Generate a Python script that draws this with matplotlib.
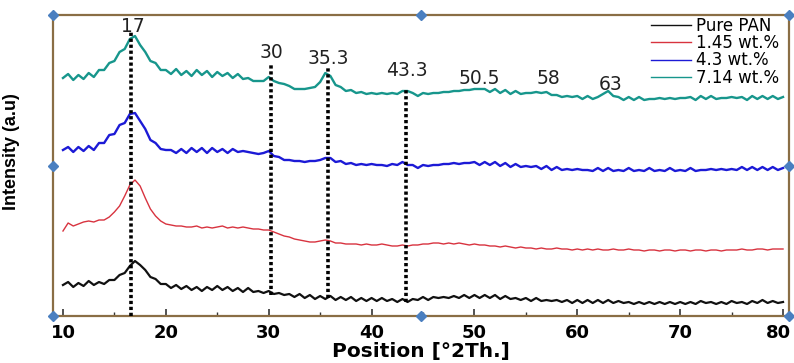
import numpy as np
import matplotlib
matplotlib.use("Agg")
import matplotlib.pyplot as plt
from matplotlib.ticker import MultipleLocator
from matplotlib.transforms import ScaledTranslation
from matplotlib import font_manager

# ---------------- data ----------------
two_theta = np.arange(10.0, 80.01, 0.5)   # 141 sampling positions

pure_pan = [
    31, 34, 29, 33, 30, 35, 31, 34, 32, 36,
    36, 41, 43, 50, 55, 51, 46, 39, 37, 32,
    32, 28, 31, 27, 30, 26, 29, 25, 29, 26,
    30, 26, 29, 25, 28, 24, 28, 24, 25, 23,
    25, 22, 23, 21, 22, 19, 22, 18, 21, 17,
    20, 17, 20, 16, 19, 16, 19, 15, 18, 15,
    18, 15, 18, 15, 17, 14, 17, 14, 17, 16,
    19, 16, 19, 18, 19, 18, 20, 18, 21, 18,
    21, 18, 21, 18, 21, 17, 20, 17, 18, 16,
    18, 15, 18, 15, 16, 15, 16, 14, 16, 13,
    16, 13, 16, 13, 16, 13, 16, 13, 15, 13,
    14, 12, 14, 12, 14, 12, 14, 12, 14, 12,
    14, 12, 14, 12, 15, 13, 14, 12, 14, 12,
    15, 13, 14, 12, 15, 13, 16, 13, 15, 13,
    14]

wt_1_45 = [
    85, 93, 90, 92, 94, 95, 94, 96, 96, 99,
    104, 110, 120, 131, 136, 130, 118, 107, 100, 95,
    92, 91, 90, 90, 89, 89, 90, 88, 89, 88,
    89, 90, 88, 89, 88, 89, 88, 87, 87, 86,
    86, 84, 82, 80, 79, 77, 76, 75, 74, 74,
    75, 76, 75, 73, 73, 72, 72, 72, 71, 72,
    71, 71, 72, 71, 70, 70, 71, 70, 71, 71,
    72, 72, 73, 73, 72, 73, 72, 73, 72, 71,
    72, 71, 71, 70, 70, 69, 70, 69, 68, 69,
    68, 68, 67, 68, 67, 67, 68, 67, 67, 66,
    67, 66, 67, 66, 67, 66, 66, 67, 66, 66,
    67, 66, 66, 65, 66, 66, 65, 66, 66, 65,
    66, 66, 65, 66, 66, 65, 66, 66, 65, 66,
    66, 66, 67, 66, 66, 67, 67, 66, 67, 67,
    67]

wt_4_3 = [
    166, 169, 164, 169, 165, 170, 166, 173, 173, 181,
    182, 191, 193, 202, 203, 195, 187, 176, 173, 167,
    166, 166, 163, 167, 163, 168, 164, 168, 163, 168,
    164, 167, 163, 167, 164, 165, 164, 163, 162, 163,
    165, 160, 159, 156, 156, 155, 155, 154, 155, 155,
    156, 158, 158, 154, 155, 152, 153, 151, 152, 151,
    152, 151, 151, 150, 152, 151, 154, 151, 151, 148,
    151, 150, 151, 151, 152, 152, 153, 152, 153, 153,
    154, 151, 154, 151, 154, 150, 153, 149, 152, 149,
    150, 149, 150, 147, 150, 146, 149, 146, 147, 146,
    147, 146, 146, 145, 148, 145, 148, 145, 146, 145,
    148, 145, 146, 145, 148, 145, 146, 145, 148, 145,
    146, 145, 148, 145, 146, 146, 147, 146, 147, 146,
    147, 146, 149, 146, 149, 146, 149, 146, 149, 146,
    148]

wt_7_14 = [
    238, 242, 236, 241, 237, 243, 239, 246, 246, 253,
    255, 264, 267, 277, 280, 271, 264, 255, 253, 246,
    246, 242, 247, 241, 245, 240, 246, 241, 245, 239,
    244, 240, 243, 238, 242, 237, 238, 235, 235, 235,
    239, 235, 233, 232, 230, 227, 227, 227, 228, 229,
    234, 243, 240, 231, 229, 225, 226, 223, 224, 222,
    223, 222, 223, 222, 223, 222, 225, 225, 223, 220,
    223, 222, 223, 223, 224, 224, 225, 225, 226, 226,
    227, 227, 227, 224, 227, 223, 226, 222, 225, 222,
    223, 223, 224, 223, 224, 221, 221, 219, 220, 219,
    220, 217, 220, 217, 219, 222, 225, 220, 219, 216,
    219, 216, 219, 216, 217, 217, 218, 217, 218, 217,
    218, 218, 219, 216, 220, 217, 220, 217, 218, 218,
    219, 218, 219, 216, 220, 217, 220, 217, 220, 217,
    219]

series_labels = ["Pure PAN", "1.45 wt.%", "4.3 wt.%", "7.14 wt.%"]
series_colors = ["#111111", "#d8333f", "#1c1ad6", "#17968c"]

# peak markers: label text and position, dotted-line position and extent
peak_labels = ["17", "30", "35.3", "43.3", "50.5", "58", "63"]
peak_label_x = [16.8, 30.3, 35.8, 43.4, 50.5, 57.2, 63.2]
peak_label_y = [289, 264, 257, 245, 238, 237, 231]
line_x = [16.6, 30.2, 35.8, 43.3]
line_top = [284, 251, 248, 228]
line_bottom = [0, 21, 18, 14]

x_ticks = [10, 20, 30, 40, 50, 60, 70, 80]

# ---------------- figure ----------------
W, H = 794, 363
fig = plt.figure(figsize=(W / 100, H / 100), dpi=100)
ax = fig.add_axes([53 / W, 1 - 316 / H, (789 - 53) / W, (316 - 15) / H])

series = [pure_pan, wt_1_45, wt_4_3, wt_7_14]
lws = [1.6, 1.0, 1.7, 1.7]
for vals, lab, col, lw in zip(series, series_labels, series_colors, lws):
    ax.plot(two_theta[:len(vals)], vals, color=col, lw=lw, label=lab)

for xv, yt, yb in zip(line_x, line_top, line_bottom):
    ax.plot([xv, xv], [yb, yt], color="black", lw=2.6,
            linestyle=(0, (0.9, 0.75)), zorder=5, clip_on=False)

for t, xv, yv in zip(peak_labels, peak_label_x, peak_label_y):
    ax.text(xv, yv, t, ha="center", va="center", fontsize=13.5,
            family="DejaVu Sans", color="#222222", zorder=6)

ax.set_xlim(9.03, 80.58)
ax.set_ylim(0, 301)
ax.set_xticks(x_ticks)
ax.xaxis.set_minor_locator(MultipleLocator(5))
ax.set_yticks([])
ax.tick_params(axis="x", which="major", direction="in", length=5, width=1.2,
               pad=6, labelsize=13, color="#333333")
ax.tick_params(axis="x", which="minor", direction="in", length=3, width=1.0,
               color="#333333")
ticklabels = ax.get_xticklabels()
for lab in ticklabels:
    lab.set_fontweight("bold")
    lab.set_family("DejaVu Sans")
# keep the last label ("80") inside the picture
ticklabels[-1].set_transform(ticklabels[-1].get_transform()
                             + ScaledTranslation(-5 / 100, 0, fig.dpi_scale_trans))

for sp in ax.spines.values():
    sp.set_color("#8a6e45")
    sp.set_linewidth(1.6)

ax.set_xlabel("Position [°2Th.]", fontsize=14.5, fontweight="bold",
              family="DejaVu Sans", labelpad=0)

names = {f.name for f in font_manager.fontManager.ttflist}
yfam = "Liberation Sans Narrow" if "Liberation Sans Narrow" in names else "Liberation Sans"
ax.set_ylabel("Intensity (a.u)", fontsize=13, family=yfam, fontweight="bold")
ax.yaxis.set_label_coords(-0.045, 0.545)

leg = ax.legend(loc="upper right", bbox_to_anchor=(0.995, 1.015), frameon=False,
                prop={"family": "DejaVu Sans", "size": 12},
                handlelength=2.4, handletextpad=0.25, labelspacing=-0.05,
                borderaxespad=0.0)
for h in leg.get_lines():
    h.set_linewidth(1.0)

# blue selection handles around the frame
hx = [0, 0, 0, 0.5, 0.5, 1, 1, 1]
hy = [1, 0.5, 0, 1, 0, 1, 0.5, 0]
ax.plot(hx, hy, linestyle="none", marker="D", markersize=5,
        color="#4a7fc0", transform=ax.transAxes, clip_on=False, zorder=10)

fig.savefig("out.png", dpi=100)
